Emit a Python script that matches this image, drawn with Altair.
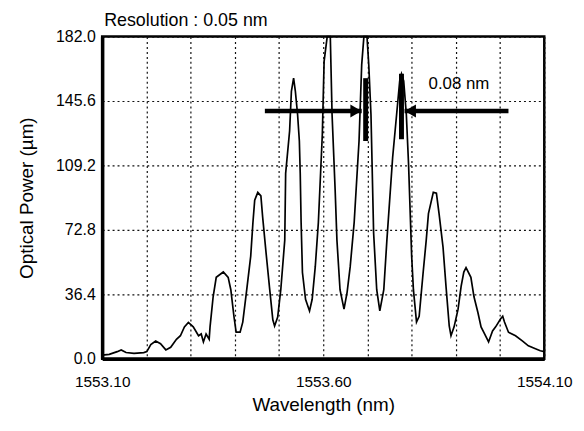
import altair as alt
import pandas as pd

# Spectrum trace: wavelength (nm) and optical power
wavelength = [
    1553.100, 1553.116, 1553.134, 1553.143, 1553.154, 1553.172, 1553.194, 1553.201,
    1553.210, 1553.221, 1553.232, 1553.244, 1553.255, 1553.268, 1553.277, 1553.286,
    1553.295, 1553.306, 1553.318, 1553.324, 1553.329, 1553.335, 1553.342, 1553.344,
    1553.351, 1553.358, 1553.374, 1553.385, 1553.391, 1553.398, 1553.403, 1553.412,
    1553.418, 1553.427, 1553.436, 1553.441, 1553.445, 1553.452, 1553.459, 1553.463,
    1553.470, 1553.479, 1553.486, 1553.490, 1553.497, 1553.504, 1553.513, 1553.515,
    1553.524, 1553.528, 1553.533, 1553.537, 1553.542, 1553.546, 1553.548, 1553.550,
    1553.553, 1553.560, 1553.569, 1553.575, 1553.582, 1553.589, 1553.598, 1553.602,
    1553.609, 1553.616, 1553.620, 1553.627, 1553.631, 1553.638, 1553.647, 1553.654,
    1553.661, 1553.670, 1553.681, 1553.687, 1553.692, 1553.699, 1553.703, 1553.708,
    1553.714, 1553.721, 1553.728, 1553.737, 1553.744, 1553.757, 1553.766, 1553.773,
    1553.777, 1553.782, 1553.788, 1553.793, 1553.800, 1553.804, 1553.811, 1553.817,
    1553.826, 1553.833, 1553.838, 1553.849, 1553.856, 1553.862, 1553.871, 1553.878,
    1553.885, 1553.889, 1553.896, 1553.905, 1553.912, 1553.918, 1553.923, 1553.934,
    1553.941, 1553.950, 1553.957, 1553.963, 1553.974, 1553.983, 1553.990, 1554.001,
    1554.006, 1554.010, 1554.019, 1554.035, 1554.051, 1554.064, 1554.080, 1554.091,
    1554.100,
]
power = [
    2.0, 2.5, 4.0, 5.0, 3.5, 3.0, 3.5, 4.0,
    8.0, 10.0, 8.5, 5.0, 6.5, 11.0, 13.0, 18.0,
    20.5, 18.0, 13.0, 14.0, 9.5, 14.0, 11.0, 18.0,
    35.0, 46.0, 49.0, 46.0, 39.0, 24.0, 15.0, 15.0,
    20.7, 39.0, 58.0, 77.0, 89.6, 94.0, 92.0, 80.0,
    61.6, 39.0, 22.0, 18.5, 23.5, 39.0, 67.0, 104.7,
    128.8, 151.0, 158.5, 151.0, 138.0, 123.0, 104.7, 77.0,
    48.7, 33.6, 27.0, 33.6, 52.0, 77.0, 127.0, 168.0,
    182.0, 182.0, 138.0, 95.0, 67.0, 39.0, 28.0, 37.5,
    52.0, 77.0, 123.0, 166.0, 182.0, 182.0, 166.0, 138.0,
    71.0, 39.0, 27.0, 39.0, 67.0, 113.7, 138.0, 157.0,
    161.0, 157.0, 138.0, 110.0, 58.0, 39.0, 20.7, 24.0,
    48.7, 67.0, 82.0, 94.0, 93.5, 82.0, 63.0, 40.0,
    18.5, 13.0, 18.0, 28.0, 41.0, 49.0, 51.5, 46.0,
    35.0, 26.0, 18.0, 15.0, 9.5, 15.7, 18.0, 22.4,
    24.0, 20.7, 15.0, 13.0, 10.0, 7.3, 5.6, 4.5,
    4.0,
]

# Axis ticks / grid
x_grid = [1553.1, 1553.2, 1553.3, 1553.4, 1553.5, 1553.6, 1553.7, 1553.8, 1553.9, 1554.0, 1554.1]
y_grid = [0.0, 18.2, 36.4, 54.6, 72.8, 91.0, 109.2, 127.4, 145.6, 163.8, 182.0]

# Annotation: arrows marking the 0.08 nm spacing
arrow_start = [1553.468, 1554.019]
arrow_end = [1553.687, 1553.784]
arrow_level = [140.0, 140.0]
head_pos = [1553.674, 1553.797]
head_shape = ["triangle-right", "triangle-left"]
bar_pos = [1553.696, 1553.777]
bar_low = [123.0, 124.0]
bar_high = [158.5, 161.0]
label_pos = [1553.907]
label_level = [155.0]
label_text = ["0.08 nm"]

FONT = "Liberation Sans"

xs = alt.Scale(domain=[1553.1, 1554.1], nice=False, zero=False)
ys = alt.Scale(domain=[0, 182], nice=False)

trace = pd.DataFrame({"nm": wavelength, "p": power})

x_axis = alt.Axis(
    values=x_grid,
    labelExpr="round((datum.value - 1553.1) / 0.1) % 5 == 0 ? format(datum.value, '.2f') : ''",
    ticks=False, labelPadding=16, labelFontSize=15.5, titleFontSize=19,
    titlePadding=6, titleFontWeight="normal",
    grid=True, gridDash=[2, 3], gridColor="#111", gridWidth=1.2,
    domainColor="black", domainWidth=3.5, labelColor="black", titleColor="black",
    labelFlush=False,
)
y_axis = alt.Axis(
    values=y_grid,
    labelExpr="round(datum.value / 18.2) % 2 == 0 ? format(datum.value, '.1f') : ''",
    ticks=False, labelPadding=7, labelFontSize=16, titleFontSize=19,
    titlePadding=19, titleFontWeight="normal",
    grid=True, gridDash=[2, 3], gridColor="#111", gridWidth=1.2,
    domainColor="black", domainWidth=3.5, labelColor="black", titleColor="black",
    labelFlush=False,
)

line = alt.Chart(trace).mark_line(color="black", strokeWidth=1.7).encode(
    x=alt.X("nm:Q", scale=xs, axis=x_axis, title="Wavelength (nm)"),
    y=alt.Y("p:Q", scale=ys, axis=y_axis, title="Optical Power (µm)"),
)

arrows_df = pd.DataFrame({"nm": arrow_start, "nm2": arrow_end, "p": arrow_level})
shafts = alt.Chart(arrows_df).mark_rule(color="black", strokeWidth=4.5).encode(
    x=alt.X("nm:Q", scale=xs, title="Wavelength (nm)"),
    x2="nm2:Q",
    y=alt.Y("p:Q", scale=ys, title="Optical Power (µm)"),
)

heads_df = pd.DataFrame({"nm": head_pos, "p": arrow_level, "shape": head_shape})
heads = alt.Chart(heads_df).mark_point(filled=True, color="black", opacity=1, size=170).encode(
    x=alt.X("nm:Q", scale=xs, title="Wavelength (nm)"),
    y=alt.Y("p:Q", scale=ys, title="Optical Power (µm)"),
    shape=alt.Shape("shape:N", scale=None, legend=None),
)

bars_df = pd.DataFrame({"nm": bar_pos, "p": bar_low, "p2": bar_high})
bars = alt.Chart(bars_df).mark_rule(color="black", strokeWidth=5).encode(
    x=alt.X("nm:Q", scale=xs, title="Wavelength (nm)"),
    y=alt.Y("p:Q", scale=ys, title="Optical Power (µm)"),
    y2="p2:Q",
)

label_df = pd.DataFrame({"nm": label_pos, "p": label_level, "t": label_text})
label = alt.Chart(label_df).mark_text(font=FONT, fontSize=17, color="black").encode(
    x=alt.X("nm:Q", scale=xs, title="Wavelength (nm)"),
    y=alt.Y("p:Q", scale=ys, title="Optical Power (µm)"),
    text="t:N",
)

chart = alt.layer(line, shafts, heads, bars, label).properties(
    width=446,
    height=325,
    autosize=alt.AutoSizeParams(type="none"),
    padding={"left": 95, "top": 27, "right": 32, "bottom": 63},
    background="white",
    title=alt.TitleParams(
        "Resolution : 0.05 nm", anchor="start", frame="group", fontSize=18,
        fontWeight="normal", font=FONT, color="black", offset=0, dx=2, dy=1,
    ),
).configure(font=FONT).configure_view(stroke="black", strokeWidth=2.5)

chart.save("out.html", embed_options={"renderer": "svg", "actions": False})
